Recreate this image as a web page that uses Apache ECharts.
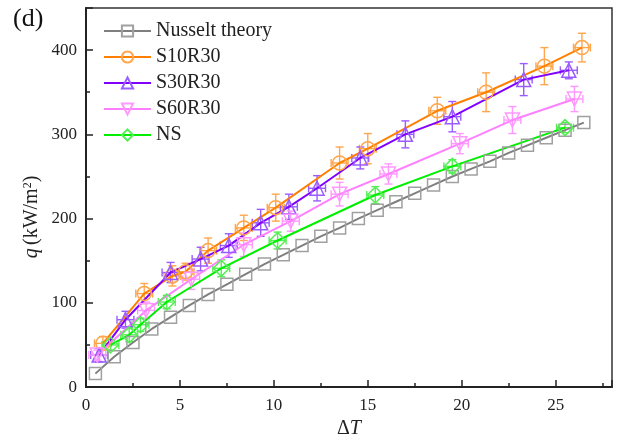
<!DOCTYPE html>
<html><head><meta charset="utf-8">
<script src="https://cdn.jsdelivr.net/npm/echarts@6/dist/echarts.min.js"></script>
<style>html,body{margin:0;padding:0;background:#fff}#c{width:621px;height:444px}</style>
</head><body><div id="c"></div>
<script>
// Nusselt theory
const nuX = [0.5,1.5,2.5,3.5,4.5,5.5,6.5,7.5,8.5,9.5,10.5,11.5,12.5,13.5,14.5,15.5,16.5,17.5,18.5,19.5,20.5,21.5,22.5,23.5,24.5,25.5,26.5];
const nuY = [16,36,53,69,83,97,110,122,134,146,157,168,179,189,200,210,220,230,240,250,259,268,278,287,296,305,314];
// S10R30
const s10X = [0.9,3.1,4.6,5.3,6.5,8.4,10.1,13.5,15.0,18.7,21.3,24.4,26.4];
const s10Y = [52,111,132,137,162,189,213,266,283,328,350,381,403];
const s10E = [8,12,12,10,15,15,16,19,18,16,23,22,17];
// S30R30
const s30X = [0.7,2.1,4.5,6.1,7.6,9.3,10.8,12.3,14.6,17.0,19.5,23.3,25.7];
const s30Y = [38,80,136,152,168,195,214,236,272,300,321,365,376];
const s30E = [8,10,12,14,14,16,15,15,13,16,18,19,10];
// S60R30
const s60X = [0.6,3.2,5.6,8.4,10.9,13.5,16.1,19.9,22.7,26.0];
const s60Y = [38,91,128,169,197,229,253,289,317,342];
const s60E = [6,10,12,14,12,14,12,12,16,15];
// NS
const nsX = [1.3,2.3,2.9,4.3,7.2,10.2,15.4,19.5,25.5];
const nsY = [50,62,74,101,141,174,228,262,308];
const nsE = [6,8,8,8,10,10,10,8,6];
const xErr = 0.45;

const xTicks = [0,5,10,15,20,25];
const yTicks = [0,100,200,300,400];

const serif = 'Liberation Serif';
const chart = echarts.init(document.getElementById('c'));

function pairs(xs, ys){ return xs.map((x,i)=>[x, ys[i]]); }
function errData(xs, ys, es){ return xs.map((x,i)=>[x, ys[i], xErr, es[i]]); }

function errSeries(xs, ys, es, color){
  return {
    type: 'custom', silent: true, z: 1,
    data: errData(xs, ys, es),
    encode: {x: 0, y: 1},
    renderItem: function(params, api){
      const x = api.value(0), y = api.value(1), ex = api.value(2), ey = api.value(3);
      const t = api.coord([x, y + ey]), b = api.coord([x, y - ey]);
      const l = api.coord([x - ex, y]), r = api.coord([x + ex, y]);
      const c = 4;
      const st = {stroke: color, lineWidth: 1.4, fill: null};
      const ln = (x1,y1,x2,y2)=>({type:'line', shape:{x1,y1,x2,y2}, style: st});
      return {type: 'group', children: [
        ln(t[0], t[1], b[0], b[1]),
        ln(t[0]-c, t[1], t[0]+c, t[1]),
        ln(b[0]-c, b[1], b[0]+c, b[1]),
        ln(l[0], l[1], r[0], r[1]),
        ln(l[0], l[1]-c, l[0], l[1]+c),
        ln(r[0], r[1]-c, r[0], r[1]+c)
      ]};
    }
  };
}

function lineSeries(name, xs, ys, lineColor, markColor, symbol, size, rot){
  return {
    name, type: 'line', z: 3,
    data: pairs(xs, ys),
    symbol, symbolSize: size, symbolRotate: rot || 0,
    showAllSymbol: true,
    lineStyle: {color: lineColor, width: 2},
    itemStyle: {color: 'rgba(255,255,255,0)', borderColor: markColor, borderWidth: 1.5},
    emphasis: {disabled: true}
  };
}

const option = {
  animation: false,
  backgroundColor: '#fff',
  grid: {left: 86, right: 9, top: 8, bottom: 50, show: true, borderColor: '#333', borderWidth: 1.5, backgroundColor: 'transparent'},
  legend: {
    orient: 'vertical', left: 98, top: 16, itemWidth: 47, itemHeight: 14, itemGap: 6,
    textStyle: {fontFamily: serif, fontSize: 20, color: '#222', lineHeight: 20},
    data: ['Nusselt theory','S10R30','S30R30','S60R30','NS']
  },
  xAxis: {
    type: 'value', min: 0, max: 28, interval: 5,
    axisLine: {show: true, lineStyle: {color: '#222', width: 2}},
    axisTick: {show: true, inside: true, length: 7, lineStyle: {color: '#222', width: 1.5}},
    minorTick: {show: true, splitNumber: 2, length: 4, lineStyle: {color: '#222', width: 1.5}},
    splitLine: {show: false},
    axisLabel: {fontFamily: serif, fontSize: 17, color: '#222', margin: 10,
      formatter: v => xTicks.includes(v) ? String(v) : ''},
    name: '{a|Δ}{b|T}', nameLocation: 'middle', nameGap: 30,
    nameTextStyle: {rich: {a: {fontFamily: serif, fontSize: 20, color: '#222'}, b: {fontFamily: serif, fontSize: 20, fontStyle: 'italic', color: '#222'}}}
  },
  yAxis: {
    type: 'value', min: 0, max: 450, interval: 100,
    axisLine: {show: true, lineStyle: {color: '#222', width: 2}},
    axisTick: {show: true, inside: true, length: 7, lineStyle: {color: '#222', width: 1.5}},
    minorTick: {show: true, splitNumber: 2, length: 4, lineStyle: {color: '#222', width: 1.5}},
    splitLine: {show: false},
    axisLabel: {fontFamily: serif, fontSize: 17, color: '#222', margin: 9,
      formatter: v => yTicks.includes(v) ? String(v) : ''}
  },
  graphic: [
    {type: 'text', left: 13, top: 6, style: {text: '(d)', fontFamily: serif, fontSize: 26, fill: '#111'}},
    {type: 'text', x: 32, y: 217, rotation: Math.PI/2,
      style: {text: '{i|q} {n|(kW/m}{s|2}{n|)}', align: 'center', verticalAlign: 'middle',
        rich: {i: {fontFamily: serif, fontSize: 20, fontStyle: 'italic', fill: '#222'},
               n: {fontFamily: serif, fontSize: 20, fill: '#222'},
               s: {fontFamily: serif, fontSize: 12, fill: '#222', verticalAlign: 'top', padding: [0,0,8,0]}}}}
  ],
  series: [
    errSeries(s10X, s10Y, s10E, '#ffa64d'),
    errSeries(s30X, s30Y, s30E, '#9a5cff'),
    errSeries(s60X, s60Y, s60E, '#ff99ff'),
    errSeries(nsX, nsY, nsE, '#55ee55'),
    lineSeries('Nusselt theory', nuX, nuY, '#7f7f7f', '#a0a0a0', 'rect', 12),
    lineSeries('S10R30', s10X, s10Y, '#ff8000', '#ffa64d', 'circle', 14),
    lineSeries('S30R30', s30X, s30Y, '#8000ff', '#9a5cff', 'triangle', 14),
    lineSeries('S60R30', s60X, s60Y, '#ff80ff', '#ff99ff', 'triangle', 14, 180),
    lineSeries('NS', nsX, nsY, '#00ee00', '#55ee55', 'diamond', 16)
  ]
};
chart.setOption(option);
</script>
</body></html>
